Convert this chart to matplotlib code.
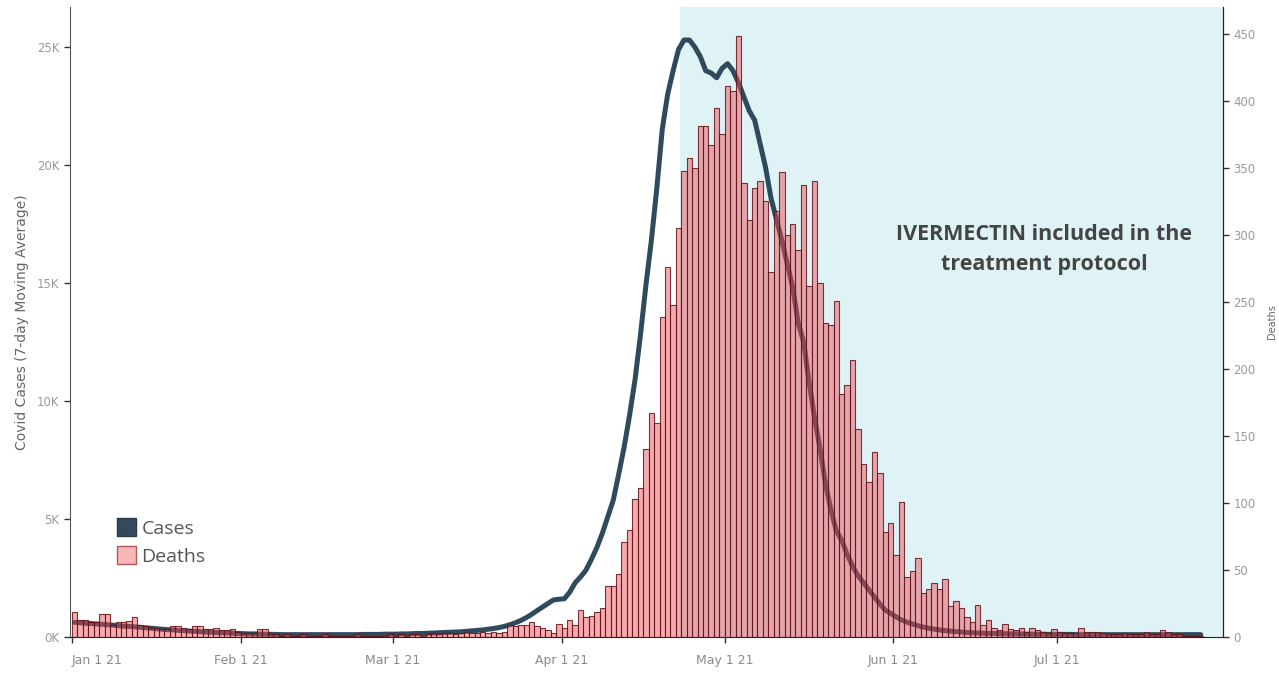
import numpy as np
import pandas as pd
import matplotlib
matplotlib.use("Agg")
import matplotlib.pyplot as plt
import matplotlib.dates as mdates
from matplotlib.patches import Patch
from matplotlib.ticker import FuncFormatter

# daily values from Jan 1 2021
start = "2021-01-01"

# Covid cases, 7-day moving average (thousands)
cases_k = [
    0.62, 0.60, 0.58, 0.57, 0.55, 0.54, 0.52, 0.50, 0.48, 0.46,
    0.45, 0.43, 0.41, 0.39, 0.37, 0.35, 0.33, 0.31, 0.30, 0.28,
    0.27, 0.25, 0.24, 0.23, 0.21, 0.20, 0.19, 0.18, 0.17, 0.16,
    0.15, 0.14, 0.13, 0.13, 0.12, 0.12, 0.11, 0.11, 0.10, 0.10,
    0.10, 0.10, 0.10, 0.10, 0.10, 0.10, 0.10, 0.10, 0.10, 0.10,
    0.10, 0.10, 0.10, 0.11, 0.11, 0.11, 0.11, 0.12, 0.12, 0.12,
    0.13, 0.13, 0.14, 0.15, 0.15, 0.16, 0.17, 0.18, 0.19, 0.20,
    0.21, 0.22, 0.24, 0.26, 0.28, 0.30, 0.33, 0.36, 0.40, 0.45,
    0.52, 0.60, 0.70, 0.82, 0.96, 1.12, 1.27, 1.42, 1.57, 1.60,
    1.62, 1.90, 2.30, 2.55, 2.84, 3.30, 3.80, 4.40, 5.10, 5.80,
    6.90, 8.05, 9.40, 10.9, 12.8, 14.9, 16.8, 19.0, 21.5, 23.0,
    24.0, 24.9, 25.3, 25.3, 25.0, 24.6, 24.0, 23.9, 23.7, 24.1,
    24.3, 24.0, 23.5, 22.9, 22.3, 21.9, 20.9, 19.9, 18.6, 17.7,
    16.8, 15.8, 14.8, 13.3, 12.5, 10.8, 9.30, 8.00, 6.50, 5.40,
    4.50, 4.10, 3.50, 3.00, 2.60, 2.30, 2.00, 1.70, 1.40, 1.14,
    1.00, 0.85, 0.72, 0.63, 0.55, 0.48, 0.42, 0.37, 0.33, 0.30,
    0.27, 0.25, 0.23, 0.21, 0.19, 0.18, 0.17, 0.16, 0.15, 0.15,
    0.14, 0.14, 0.13, 0.13, 0.13, 0.12, 0.12, 0.12, 0.12, 0.11,
    0.11, 0.11, 0.11, 0.11, 0.10, 0.10, 0.10, 0.10, 0.10, 0.10,
    0.10, 0.10, 0.10, 0.10, 0.10, 0.10, 0.10, 0.10, 0.10, 0.10,
    0.10, 0.10, 0.10, 0.10, 0.10, 0.10, 0.10, 0.10,
]

# daily deaths
deaths = [
    19, 13, 13, 11, 11, 17, 17, 9, 11, 11,
    12, 15, 9, 8, 7, 7, 6, 6, 8, 8,
    7, 6, 8, 8, 6, 6, 7, 5, 5, 6,
    4, 3, 3, 3, 6, 6, 2, 2, 1, 2,
    1, 1, 2, 1, 1, 1, 2, 1, 1, 1,
    1, 1, 2, 1, 1, 1, 1, 1, 2, 1,
    2, 1, 2, 2, 1, 2, 3, 2, 3, 3,
    2, 3, 4, 3, 3, 4, 3, 4, 3, 4,
    9, 8, 9, 9, 11, 8, 7, 5, 3, 10,
    7, 13, 9, 20, 15, 16, 19, 22, 38, 38,
    47, 71, 80, 103, 111, 140, 167, 160, 239, 276,
    248, 305, 348, 357, 350, 381, 381, 367, 395, 375,
    411, 407, 448, 339, 311, 335, 340, 325, 272, 318,
    347, 300, 308, 289, 337, 262, 340, 264, 234, 233,
    251, 181, 188, 207, 155, 129, 116, 138, 122, 78,
    85, 61, 101, 45, 49, 59, 33, 36, 40, 36,
    43, 23, 27, 22, 15, 11, 24, 9, 13, 7,
    5, 10, 6, 5, 7, 4, 7, 5, 4, 3,
    6, 4, 3, 3, 3, 7, 4, 4, 4, 3,
    2, 2, 2, 3, 2, 2, 2, 4, 2, 2,
    5, 4, 2, 2, 1, 1, 1, 1,
]

dates = pd.date_range(start, periods=len(deaths), freq="D")
shade_start = pd.Timestamp("2021-04-22 19:00")
x_min = pd.Timestamp("2020-12-31 15:00")
x_max = pd.Timestamp("2021-07-31 14:00")

fig = plt.figure(figsize=(12.79, 6.73), dpi=100)
ax = fig.add_axes([0.0547, 0.0535, 0.9015, 0.9361])
ax2 = ax.twinx()

# shaded protocol period
ax.axvspan(shade_start, x_max, color="#dff3f7", zorder=0, lw=0)

ax.plot(dates + pd.Timedelta(hours=12), np.array(cases_k) * 1000,
        color="#2e4a5c", lw=3.6, solid_capstyle="round",
        solid_joinstyle="round", zorder=2)

# bars on the twin axes, semi-transparent so the line shows through
ax2.bar(dates, deaths, width=1.0, align="edge",
        facecolor=(0.92, 0.30, 0.33, 0.47),
        edgecolor=(0.40, 0.07, 0.10, 0.85), linewidth=0.8, zorder=3)
ax2.patch.set_visible(False)

ax.set_xlim(x_min, x_max)
ax.set_ylim(0, 26700)
ax2.set_ylim(0, 470)

ax.xaxis.set_major_locator(mdates.MonthLocator())
ax.xaxis.set_major_formatter(mdates.DateFormatter("%b %-d %y"))
ax.yaxis.set_major_locator(plt.MultipleLocator(5000))
ax.yaxis.set_major_formatter(FuncFormatter(lambda v, p: f"{v/1000:.0f}K"))
ax2.yaxis.set_major_locator(plt.MultipleLocator(50))

for a in (ax, ax2):
    a.spines["top"].set_visible(False)
    a.tick_params(colors="#333333", labelcolor="#9a9a9a", labelsize=8.5,
                  length=4, width=1)
ax.spines["left"].set_color("#555555")
ax.spines["bottom"].set_color("#222222")
ax2.spines["right"].set_color("#222222")
ax2.spines["left"].set_visible(False)
ax2.spines["bottom"].set_visible(False)
ax.tick_params(axis="x", labelsize=9, labelcolor="#8a8a8a", pad=8)

fig.canvas.draw()
labels = ax.get_xticklabels()
if labels:
    labels[0].set_ha("left")

ax.set_ylabel("Covid Cases (7-day Moving Average)", color="#666666",
              fontsize=10, labelpad=6)
ax2.set_ylabel("Deaths", color="#666666", fontsize=7, labelpad=8)

ax.text(0.845, 0.615, "IVERMECTIN included in the\ntreatment protocol",
        transform=ax.transAxes, ha="center", va="center",
        fontsize=15.5, fontweight="bold", color="#444444",
        family="Open Sans", linespacing=1.55)

handles = [Patch(facecolor="#34495e", edgecolor="#2a3a48", label="Cases"),
           Patch(facecolor="#f8b8ba", edgecolor="#b05858", label="Deaths")]
ax.legend(handles=handles, loc="upper left", bbox_to_anchor=(0.029, 0.21),
          frameon=False, handlelength=1.0, handleheight=1.0,
          handletextpad=0.25, labelspacing=0.45, borderpad=0.2,
          prop={"family": "Open Sans", "size": 14}, labelcolor="#555555")

fig.savefig("out.png", dpi=100)
